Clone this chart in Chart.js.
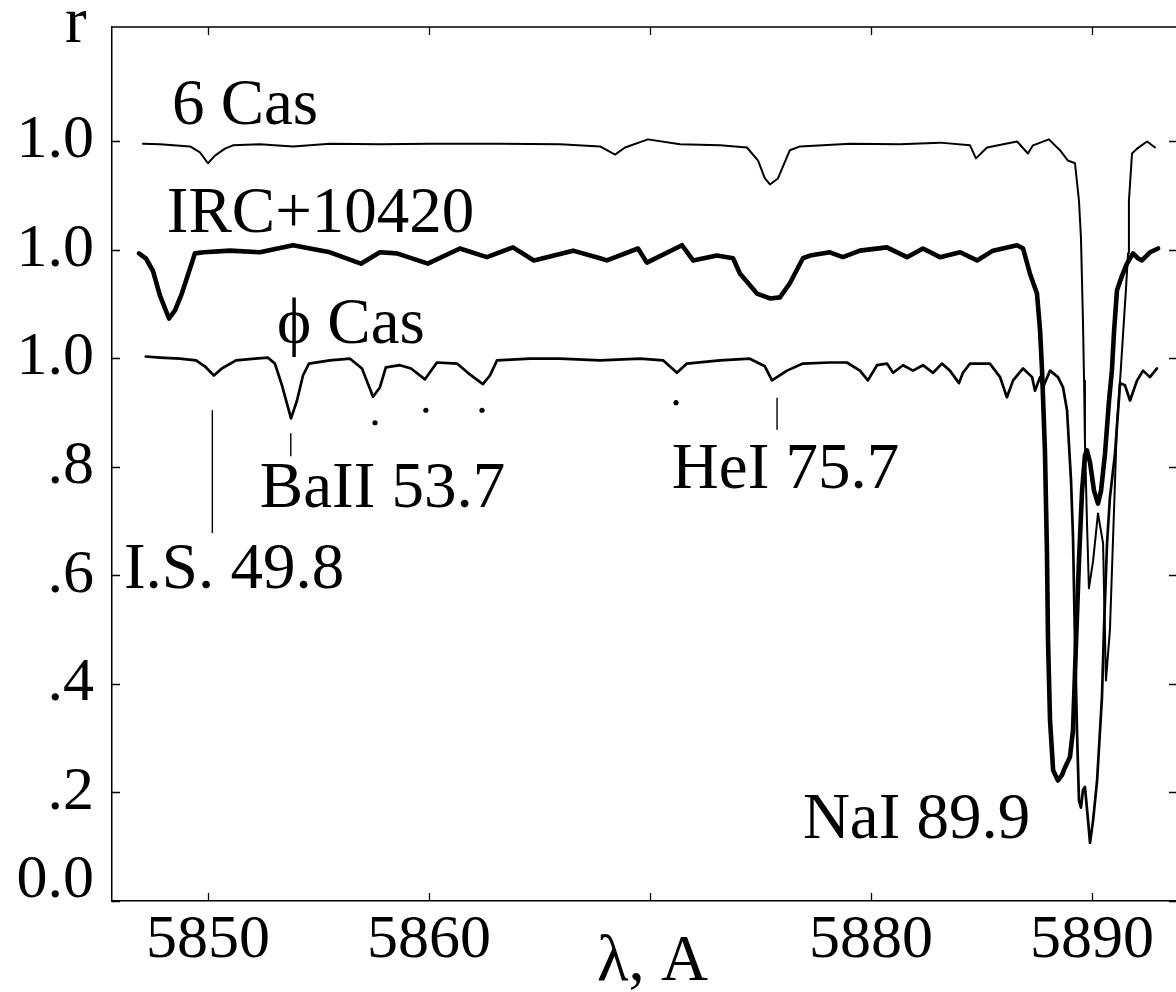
<!DOCTYPE html>
<html>
<head>
<meta charset="utf-8">
<title>NaI D2 region: 6 Cas, IRC+10420, phi Cas</title>
<script src="https://cdn.jsdelivr.net/npm/chart.js@4.4.1/dist/chart.umd.min.js"></script>
<style>
  html, body { margin: 0; padding: 0; background: #fff; }
  #wrap { width: 1176px; height: 992px; }
</style>
</head>
<body>
<div id="wrap"><canvas id="spectra"></canvas></div>
<script>
// wavelengths (A) and residual intensity r
const wlSixCas = [5847.06, 5847.83, 5849.19, 5849.64, 5850.00, 5850.32, 5850.77, 5851.13, 5852.35, 5853.85,
  5855.52, 5857.78, 5860.05, 5863.21, 5865.93, 5867.74, 5868.42, 5868.87, 5869.91, 5871.36,
  5873.17, 5874.39, 5874.89, 5875.20, 5875.43, 5875.79, 5876.33, 5876.79, 5879.05, 5881.31,
  5883.12, 5884.48, 5884.75, 5885.25, 5886.61, 5887.10, 5887.33, 5888.05, 5888.55, 5888.91,
  5889.23, 5889.41, 5889.50, 5889.59, 5889.64, 5889.68, 5889.77, 5889.86, 5890.05, 5890.27,
  5890.50, 5890.63, 5890.81, 5891.13, 5891.27, 5891.54, 5891.63, 5891.67, 5891.81, 5892.04,
  5892.49, 5892.85];
const rSixCas = [0.995, 0.994, 0.990, 0.979, 0.959, 0.973, 0.986, 0.992, 0.994, 0.990,
  0.995, 0.994, 0.995, 0.995, 0.994, 0.990, 0.975, 0.988, 1.003, 0.994,
  0.992, 0.988, 0.964, 0.931, 0.920, 0.931, 0.983, 0.990, 0.995, 0.994,
  0.997, 0.992, 0.968, 0.988, 0.999, 0.977, 0.992, 1.003, 0.983, 0.964,
  0.959, 0.890, 0.822, 0.669, 0.559, 0.448, 0.301, 0.176, 0.227, 0.314,
  0.259, 0.006, 0.099, 0.480, 0.559, 0.730, 0.793, 0.890, 0.977, 0.986,
  0.999, 0.988];

const wlIrc = [5846.88, 5847.19, 5847.51, 5847.83, 5848.24, 5848.51, 5848.82, 5849.19, 5849.41, 5849.82,
  5851.00, 5852.35, 5853.85, 5855.52, 5856.92, 5857.78, 5858.55, 5859.95, 5861.40, 5862.62,
  5863.80, 5864.75, 5866.52, 5867.74, 5868.05, 5869.46, 5869.86, 5871.45, 5871.95, 5873.03,
  5873.76, 5874.07, 5874.84, 5875.43, 5875.88, 5876.33, 5876.92, 5877.24, 5878.14, 5878.73,
  5879.50, 5880.72, 5881.63, 5882.35, 5883.12, 5884.03, 5884.80, 5885.52, 5886.61, 5886.88,
  5887.19, 5887.51, 5887.65, 5887.74, 5887.87, 5887.96, 5888.01, 5888.10, 5888.24, 5888.46,
  5888.64, 5888.78, 5889.00, 5889.14, 5889.28, 5889.41, 5889.55, 5889.68, 5889.77, 5889.91,
  5890.09, 5890.27, 5890.41, 5890.59, 5890.77, 5890.90, 5891.00, 5891.13, 5891.36, 5891.58,
  5891.86, 5892.08, 5892.26, 5892.62, 5892.99];
const rIrc = [0.993, 0.984, 0.961, 0.915, 0.873, 0.888, 0.919, 0.965, 0.993, 0.995,
  0.998, 0.995, 1.008, 0.995, 0.974, 0.995, 0.993, 0.974, 1.002, 0.986,
  1.004, 0.980, 0.998, 0.984, 0.980, 1.002, 0.976, 1.008, 0.980, 0.989,
  0.984, 0.956, 0.919, 0.910, 0.912, 0.938, 0.984, 0.989, 0.995, 0.986,
  0.998, 1.004, 0.986, 1.002, 0.986, 0.995, 0.980, 0.998, 1.008, 1.002,
  0.956, 0.919, 0.851, 0.777, 0.630, 0.446, 0.280, 0.133, 0.041, 0.022,
  0.032, 0.046, 0.065, 0.114, 0.280, 0.427, 0.556, 0.621, 0.630, 0.608,
  0.556, 0.532, 0.556, 0.625, 0.722, 0.777, 0.851, 0.925, 0.952, 0.974,
  0.993, 0.984, 0.980, 0.995, 1.002];

const wlPhiCas = [5847.19, 5847.83, 5848.73, 5849.46, 5849.86, 5850.27, 5850.63, 5851.27, 5852.13, 5852.71,
  5853.03, 5853.35, 5853.76, 5854.03, 5854.30, 5854.57, 5855.52, 5856.43, 5856.97, 5857.47,
  5857.78, 5858.05, 5858.69, 5859.19, 5859.82, 5860.36, 5861.27, 5861.76, 5862.44, 5862.76,
  5863.08, 5864.57, 5865.93, 5867.74, 5869.55, 5870.59, 5871.22, 5871.67, 5873.17, 5874.52,
  5875.20, 5875.52, 5876.20, 5876.92, 5878.14, 5878.91, 5879.50, 5879.86, 5880.27, 5880.72,
  5881.00, 5881.45, 5881.90, 5882.35, 5882.81, 5883.21, 5883.57, 5883.98, 5884.16, 5884.48,
  5885.38, 5885.84, 5886.15, 5886.43, 5886.88, 5887.29, 5887.42, 5887.65, 5887.78, 5888.10,
  5888.46, 5888.69, 5888.87, 5889.05, 5889.14, 5889.23, 5889.32, 5889.41, 5889.50, 5889.59,
  5889.68, 5889.82, 5889.91, 5890.05, 5890.23, 5890.45, 5890.54, 5890.68, 5890.81, 5891.04,
  5891.27, 5891.49, 5891.72, 5892.04, 5892.31, 5892.62, 5892.94];
const rPhiCas = [1.003, 1.001, 0.999, 0.996, 0.985, 0.968, 0.981, 0.996, 0.999, 1.001,
  0.990, 0.950, 0.889, 0.922, 0.968, 0.990, 0.996, 0.999, 0.981, 0.929,
  0.946, 0.983, 0.987, 0.981, 0.961, 0.992, 0.990, 0.973, 0.952, 0.968,
  0.996, 0.999, 0.999, 0.996, 0.999, 0.996, 0.973, 0.990, 0.996, 0.999,
  0.985, 0.959, 0.977, 0.990, 0.992, 0.992, 0.977, 0.959, 0.987, 0.990,
  0.973, 0.987, 0.977, 0.987, 0.973, 0.990, 0.977, 0.954, 0.973, 0.990,
  0.990, 0.965, 0.928, 0.959, 0.981, 0.965, 0.940, 0.965, 0.946, 0.977,
  0.965, 0.946, 0.904, 0.775, 0.670, 0.480, 0.314, 0.185, 0.172, 0.204,
  0.210, 0.149, 0.107, 0.149, 0.222, 0.375, 0.499, 0.659, 0.743, 0.824,
  0.954, 0.950, 0.922, 0.959, 0.977, 0.965, 0.981];

// vertical shift of the upper spectra
const sixCasShift = 0.4;
const ircShift = 0.2;

// blends marked by dots under phi Cas
const dotWl = [5857.56, 5859.86, 5862.40, 5871.18];
const dotR = [0.881, 0.904, 0.904, 0.918];

// identification strokes: I.S., BaII, HeI
const markWl = [5850.2, 5853.75, 5875.75];
const markTop = [0.903, 0.861, 0.926];
const markBottom = [0.679, 0.820, 0.869];

const xTickValues = [5850, 5860, 5870, 5880, 5890];
const xTickLabels = ['5850', '5860', '', '5880', '5890'];
const yTickValues = [0, 0.2, 0.4, 0.6, 0.8, 1.0, 1.2, 1.4];
const yTickLabels = ['0.0', '.2', '.4', '.6', '.8', '1.0', '1.0', '1.0'];

const serif = 'Liberation Serif';
const toPoints = (wl, r, shift) => wl.map((w, i) => ({ x: w, y: r[i] + shift }));

const lineStyle = (w) => ({
  borderColor: '#000', borderWidth: w, pointRadius: 0, tension: 0,
  borderJoinStyle: 'round', borderCapStyle: 'round', fill: false
});

const datasets = [
  Object.assign({ label: '6 Cas', data: toPoints(wlSixCas, rSixCas, sixCasShift) }, lineStyle(2)),
  Object.assign({ label: 'IRC+10420', data: toPoints(wlIrc, rIrc, ircShift) }, lineStyle(4.6)),
  Object.assign({ label: 'phi Cas', data: toPoints(wlPhiCas, rPhiCas, 0) }, lineStyle(2.7)),
  {
    label: 'blends', data: toPoints(dotWl, dotR, 0), showLine: false,
    pointRadius: 2.6, pointBackgroundColor: '#000', pointBorderWidth: 0
  }
];
markWl.forEach((w, i) => {
  datasets.push(Object.assign({
    label: 'mark' + i,
    data: [{ x: w, y: markTop[i] }, { x: w, y: markBottom[i] }]
  }, lineStyle(1.4)));
});

// labels inside the plot, anchored in data units
const notes = [
  { text: '6 Cas', x: 5848.37, y: 1.432 },
  { text: 'IRC+10420', x: 5848.14, y: 1.2315 },
  { text: '\u03D5 Cas', x: 5853.12, y: 1.027 },
  { text: 'BaII 53.7', x: 5852.35, y: 0.725 },
  { text: 'I.S. 49.8', x: 5846.20, y: 0.576 },
  { text: 'HeI 75.7', x: 5870.99, y: 0.760 },
  { text: 'NaI 89.9', x: 5876.92, y: 0.1155 }
];

const frameAndNotes = {
  id: 'frameAndNotes',
  afterDraw(chart) {
    const { ctx, chartArea: a, scales: { x, y } } = chart;
    ctx.save();
    ctx.strokeStyle = '#000';
    ctx.lineWidth = 1.3;
    ctx.beginPath();
    ctx.moveTo(a.left, a.top);
    ctx.lineTo(a.right, a.top);
    xTickValues.forEach(v => {
      const px = Math.round(x.getPixelForValue(v)) + 0.5;
      ctx.moveTo(px, a.bottom); ctx.lineTo(px, a.bottom - 8);
      ctx.moveTo(px, a.top); ctx.lineTo(px, a.top + 8);
    });
    yTickValues.forEach(v => {
      const py = Math.round(y.getPixelForValue(v)) + 0.5;
      ctx.moveTo(a.left, py); ctx.lineTo(a.left + 8, py);
      ctx.moveTo(a.right, py); ctx.lineTo(a.right - 7, py);
    });
    ctx.stroke();

    ctx.fillStyle = '#000';
    ctx.font = '65px "' + serif + '"';
    ctx.textAlign = 'left';
    ctx.textBaseline = 'alphabetic';
    notes.forEach(n => ctx.fillText(n.text, x.getPixelForValue(n.x), y.getPixelForValue(n.y)));
    ctx.fillText('r', a.left - 47, a.top + 15);
    ctx.fillText('\u03BB, A', x.getPixelForValue(5867.6), chart.height - 12);
    ctx.restore();
  }
};

new Chart(document.getElementById('spectra'), {
  type: 'line',
  data: { datasets: datasets },
  plugins: [frameAndNotes],
  options: {
    responsive: true,
    maintainAspectRatio: false,
    devicePixelRatio: 1,
    animation: false,
    parsing: false,
    layout: { autoPadding: false, padding: { top: 27, left: 0, right: 0, bottom: 0 } },
    plugins: { legend: { display: false }, tooltip: { enabled: false } },
    scales: {
      x: {
        type: 'linear',
        min: 5845.66,
        max: 5893.8,
        afterBuildTicks: s => { s.ticks = xTickValues.map(v => ({ value: v })); },
        afterFit: s => { s.height = 91; s.paddingLeft = 0; s.paddingRight = 0; },
        grid: { display: false, drawTicks: false },
        border: { display: true, color: '#000', width: 1.5 },
        ticks: {
          color: '#000',
          padding: 3,
          maxRotation: 0,
          font: { family: serif, size: 62 },
          callback: (v, i) => xTickLabels[i]
        }
      },
      y: {
        type: 'linear',
        min: 0,
        max: 1.61,
        afterBuildTicks: s => { s.ticks = yTickValues.map(v => ({ value: v })); },
        afterFit: s => { s.width = 112; s.paddingTop = 0; s.paddingBottom = 0; },
        grid: { display: false, drawTicks: false },
        border: { display: true, color: '#000', width: 1.5 },
        ticks: {
          color: '#000',
          padding: 18,
          font: c => ({ family: serif, size: 62, lineHeight: c.tick && c.tick.value === 0 ? 0.67 : 1.2 }),
          // bottom label sits a little above its tick
          callback: (v, i) => (v === 0 ? [yTickLabels[i], ''] : yTickLabels[i])
        }
      }
    }
  }
});
</script>
</body>
</html>
